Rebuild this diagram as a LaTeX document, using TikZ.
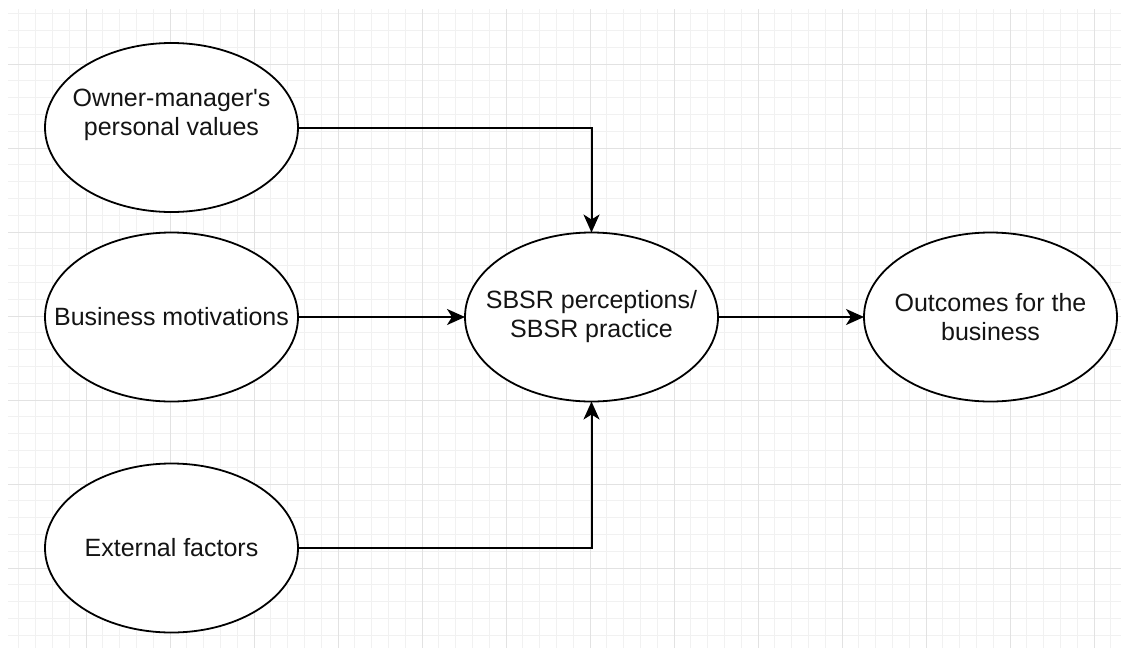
\documentclass[tikz,border=0pt]{standalone}
\usepackage{fontspec}
\setmainfont{Liberation Sans}
\usetikzlibrary{arrows.meta,shapes.geometric}
\definecolor{gridminor}{HTML}{F1F1F1}
\definecolor{gridmajor}{HTML}{E2E2E2}
\definecolor{inktext}{HTML}{141414}
\begin{document}
\begin{tikzpicture}[x=1pt,y=-1pt,
  oval/.style={draw=black, line width=1.8pt, fill=white, shape=ellipse,
    minimum width=253pt, minimum height=169pt, inner sep=0pt, outer sep=0pt},
  caption/.style={align=center, text=inktext, inner sep=0pt,
    font=\fontsize{25}{29}\selectfont},
  conn/.style={draw=black, line width=2pt,
    -{Stealth[length=18pt,width=16pt,inset=5pt]}}]
  % canvas
  \fill[white] (0,0) rectangle (1121,648);
  \useasboundingbox (0,0) rectangle (1121,648);
  % background grid: fine lines every 16.8, heavier every 84
  \begin{scope}
    \clip (8,9) rectangle (1121,648);
    \foreach \i in {0,...,65}
      \draw[gridminor, line width=1pt] ({18.8+16.8*\i},9) -- ({18.8+16.8*\i},648);
    \foreach \j in {0,...,37}
      \draw[gridminor, line width=1pt] (8,{13.6+16.8*\j}) -- (1121,{13.6+16.8*\j});
    \foreach \i in {0,...,12}
      \draw[gridmajor, line width=1pt] ({86+84*\i},9) -- ({86+84*\i},648);
    \foreach \j in {0,...,6}
      \draw[gridmajor, line width=1pt] (8,{64+84*\j}) -- (1121,{64+84*\j});
  \end{scope}
  % ellipses
  \node[oval] (owner)    at (171.5,127.5) {};
  \node[oval] (business) at (171.5,317)   {};
  \node[oval] (external) at (171.5,548)   {};
  \node[oval] (sbsr)     at (591.5,317)   {};
  \node[oval] (outcomes) at (990.5,317)   {};
  % labels
  \node[caption] (ownertext)    at ([yshift=13pt]owner.center) {Owner-manager\textquotesingle s\\personal values};
  \node[caption] (businesstext) at (business.center) {Business motivations};
  \node[caption] (externaltext) at (external.center) {External factors};
  \node[caption] (sbsrtext)     at (sbsr.center) {SBSR perceptions/\\SBSR practice};
  \node[caption] (outcomestext) at (outcomes.center) {Outcomes for the\\business};
  % connectors
  \draw[conn] (owner.east) -| (sbsr.north);
  \draw[conn] (business.east) -- (sbsr.west);
  \draw[conn] (external.east) -| (sbsr.south);
  \draw[conn] (sbsr.east) -- (outcomes.west);
\end{tikzpicture}
\end{document}
